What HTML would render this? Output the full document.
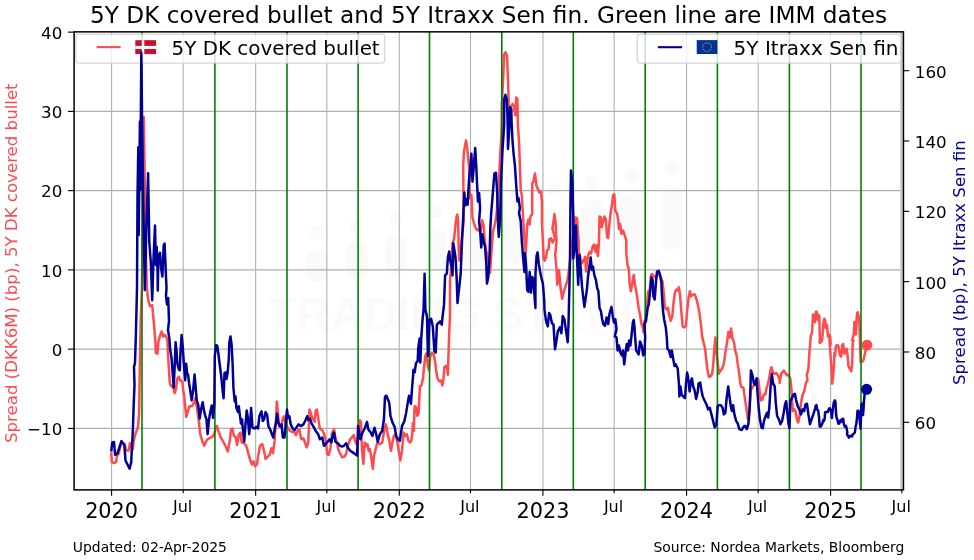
<!DOCTYPE html>
<html><head><meta charset="utf-8"><title>5Y DK covered bullet and 5Y Itraxx Sen fin</title>
<style>html,body{margin:0;padding:0;background:#fff}body{width:974px;height:560px;overflow:hidden}</style></head>
<body>
<svg width="974" height="560" viewBox="0 0 974 560" font-family='"DejaVu Sans","Liberation Sans",sans-serif' style="display:block;will-change:transform">
<rect width="974" height="560" fill="#fff"/>
<g fill="#fafafa">
<rect x="306.0" y="250.0" width="22" height="32.0" rx="10"/>
<circle cx="317.0" cy="233.0" r="7"/>
<rect x="345.4" y="242.8" width="22" height="35.7" rx="10"/>
<circle cx="356.4" cy="225.8" r="7"/>
<rect x="384.8" y="235.6" width="22" height="39.3" rx="10"/>
<circle cx="395.8" cy="218.6" r="7"/>
<rect x="424.2" y="228.3" width="22" height="43.0" rx="10"/>
<circle cx="435.2" cy="211.3" r="7"/>
<rect x="463.6" y="221.1" width="22" height="46.7" rx="10"/>
<circle cx="474.6" cy="204.1" r="7"/>
<rect x="502.9" y="213.9" width="22" height="50.3" rx="10"/>
<circle cx="513.9" cy="196.9" r="7"/>
<rect x="542.3" y="206.7" width="22" height="54.0" rx="10"/>
<circle cx="553.3" cy="189.7" r="7"/>
<rect x="581.7" y="199.4" width="22" height="57.7" rx="10"/>
<circle cx="592.7" cy="182.4" r="7"/>
<rect x="621.1" y="192.2" width="22" height="61.3" rx="10"/>
<circle cx="632.1" cy="175.2" r="7"/>
<rect x="660.5" y="185.0" width="22" height="65.0" rx="10"/>
<circle cx="671.5" cy="168.0" r="7"/>
<text x="268" y="330" font-size="47" font-weight="bold" font-family='"Liberation Sans",sans-serif' textLength="422" lengthAdjust="spacingAndGlyphs">TRADING STATION</text>
</g>
<g stroke="#b0b0b0" stroke-width="1.1" fill="none">
<line x1="111.60" y1="31.85" x2="111.60" y2="489.9"/>
<line x1="183.22" y1="31.85" x2="183.22" y2="489.9"/>
<line x1="255.64" y1="31.85" x2="255.64" y2="489.9"/>
<line x1="326.87" y1="31.85" x2="326.87" y2="489.9"/>
<line x1="399.28" y1="31.85" x2="399.28" y2="489.9"/>
<line x1="470.51" y1="31.85" x2="470.51" y2="489.9"/>
<line x1="542.92" y1="31.85" x2="542.92" y2="489.9"/>
<line x1="614.15" y1="31.85" x2="614.15" y2="489.9"/>
<line x1="686.56" y1="31.85" x2="686.56" y2="489.9"/>
<line x1="758.19" y1="31.85" x2="758.19" y2="489.9"/>
<line x1="830.60" y1="31.85" x2="830.60" y2="489.9"/>
<line x1="74.1" y1="111.40" x2="903.45" y2="111.40"/>
<line x1="74.1" y1="190.65" x2="903.45" y2="190.65"/>
<line x1="74.1" y1="269.90" x2="903.45" y2="269.90"/>
<line x1="74.1" y1="349.15" x2="903.45" y2="349.15"/>
<line x1="74.1" y1="428.40" x2="903.45" y2="428.40"/>
</g>
<rect x="900.1" y="31.85" width="2.7" height="458.05" fill="#cdcdcd"/>
<clipPath id="c"><rect x="74.1" y="31.85" width="829.35" height="458.05"/></clipPath>
<polyline clip-path="url(#c)" fill="none" stroke-linejoin="round" stroke-width="2.5" stroke="#ff4a4e" points="111.2,452.3 111.8,462.1 114.0,463.0 116.1,462.1 116.9,456.4 118.9,453.1 120.5,445.7 122.2,442.4 124.6,444.1 126.3,450.6 128.8,450.6 129.9,443.2 131.2,447.4 132.9,449.0 133.7,440.8 135.3,434.2 138.1,426.8 139.1,412.9 139.4,396.4 139.6,380.0 140.7,320.9 141.9,288.0 143.8,117.3 144.6,170.0 145.6,240.0 146.8,288.0 147.6,294.6 148.5,301.1 150.1,306.1 152.2,305.2 153.4,317.6 154.5,330.7 155.5,343.9 155.9,352.9 157.5,353.7 158.3,342.2 160.0,335.6 161.6,331.5 163.2,336.5 164.9,334.8 166.5,337.3 167.7,342.2 167.5,344.4 168.7,365.9 169.8,383.2 171.3,386.1 173.0,386.8 174.7,393.2 175.9,388.9 177.3,378.9 178.8,376.7 180.2,380.3 182.3,381.8 183.3,390.4 184.5,399.0 186.2,417.0 187.9,411.2 189.5,406.3 192.0,406.3 194.5,401.4 195.3,398.1 196.9,407.9 198.6,419.4 200.2,434.2 202.7,442.4 204.3,445.7 206.8,440.0 209.2,438.3 212.5,436.7 214.2,434.2 215.8,427.6 217.0,426.0 218.3,430.9 220.8,437.5 222.4,440.0 224.0,443.2 225.7,446.5 227.8,451.5 229.8,440.8 231.1,429.3 232.4,428.5 233.9,435.9 235.5,436.7 237.2,444.9 238.8,434.2 240.5,432.6 241.6,442.4 243.8,443.2 246.2,445.7 248.7,454.8 250.3,460.5 252.0,464.6 253.6,461.3 255.2,466.2 256.9,464.6 258.5,453.9 260.0,445.7 262.3,444.1 264.0,450.7 265.6,458.9 268.1,456.5 269.7,454.8 271.4,448.2 273.0,453.2 274.6,440.9 276.0,419.5 276.8,401.4 277.9,412.9 279.2,426.1 281.2,427.7 282.9,417.9 284.2,416.2 285.8,424.4 287.8,427.7 290.2,431.0 292.4,431.8 294.4,432.6 296.0,435.1 297.6,431.0 299.3,429.4 301.3,439.2 303.4,438.4 305.0,442.5 306.7,447.4 308.3,442.5 309.5,409.6 310.8,412.9 312.1,417.9 313.2,419.5 314.6,422.0 315.7,410.5 317.0,409.6 318.2,417.9 319.8,428.5 322.3,430.2 323.9,433.5 325.6,439.2 327.2,454.0 328.9,454.8 330.5,447.4 332.1,432.6 334.1,429.4 335.4,437.6 337.1,444.1 338.7,450.7 340.4,454.0 342.0,457.3 344.5,456.5 346.1,454.0 347.8,445.8 350.2,439.2 351.9,437.6 353.8,435.1 355.1,440.9 356.8,444.1 358.4,434.3 359.7,420.3 360.9,422.0 362.0,450.7 363.4,463.9 364.7,442.5 365.8,445.8 367.5,444.1 368.6,450.7 369.9,449.1 371.2,457.3 372.9,468.8 374.0,455.6 375.7,449.1 377.3,442.5 379.8,444.1 382.2,442.5 384.4,429.4 386.0,424.4 387.7,434.3 389.3,440.9 391.0,450.7 392.1,444.1 393.8,435.9 395.4,434.3 397.0,440.9 398.7,450.7 400.3,460.6 402.0,450.7 403.6,432.6 405.2,435.9 406.9,434.3 408.5,440.9 410.0,442.5 411.3,440.7 412.1,434.3 412.9,423.0 413.8,431.1 414.6,406.2 416.2,407.0 417.3,415.8 418.6,413.4 419.9,386.1 421.5,385.3 423.1,378.0 423.8,369.0 425.4,355.9 426.5,353.4 427.9,365.7 429.0,370.6 430.3,355.9 432.0,352.6 433.6,354.2 435.2,362.4 436.4,372.3 437.7,378.9 439.4,381.3 441.0,380.5 442.3,385.4 443.5,378.9 444.3,367.4 445.6,365.7 446.8,366.5 447.9,374.8 448.4,357.5 449.2,332.9 450.0,316.4 450.0,280.3 450.9,270.4 451.7,257.3 452.5,243.3 454.1,239.2 455.5,224.4 456.6,216.2 457.4,214.6 458.2,224.4 458.7,249.1 459.4,260.6 460.7,249.1 462.4,232.6 463.7,221.1 463.2,165.3 464.0,151.3 466.0,140.6 467.3,148.9 468.9,165.3 469.8,198.1 471.4,194.9 472.5,217.9 473.9,222.8 475.5,227.7 477.1,230.2 478.8,229.4 480.4,232.6 482.1,220.3 483.4,224.4 484.5,237.6 485.7,249.1 487.0,254.0 488.6,262.2 490.0,272.9 491.1,257.3 491.9,245.8 492.8,232.6 494.4,226.1 495.5,221.1 496.5,214.6 498.8,185.0 500.1,157.1 501.5,132.4 501.8,103.9 503.1,79.3 504.2,54.6 505.4,52.2 507.0,55.5 508.0,79.3 508.7,103.9 509.7,115.4 510.8,107.2 512.5,103.9 514.1,107.2 515.3,115.4 516.2,97.4 517.4,99.0 517.9,125.9 519.0,140.6 519.9,165.3 520.7,189.9 521.8,194.9 523.5,224.4 524.5,240.9 525.6,252.4 526.4,240.9 527.2,224.4 528.4,219.5 529.7,224.4 530.5,216.2 532.2,214.6 532.2,183.4 533.3,181.7 535.0,173.5 536.3,185.0 537.6,188.3 539.2,192.4 540.9,191.6 542.0,201.4 542.0,224.4 542.9,240.9 543.7,258.9 544.8,260.6 546.1,257.3 547.0,250.7 548.6,249.1 549.4,239.2 551.1,238.4 552.7,242.5 554.4,239.2 555.0,237.6 552.4,228.9 554.5,214.1 555.7,223.9 556.5,242.0 555.2,255.1 556.5,268.3 557.3,284.7 559.0,269.9 560.6,288.0 562.2,298.7 563.9,291.3 565.5,286.4 567.2,281.4 568.3,274.9 575.4,217.4 577.0,218.2 577.9,232.1 578.7,242.0 578.7,250.2 580.3,258.4 582.0,263.4 583.6,260.9 585.2,256.8 586.1,271.6 587.4,260.1 588.5,254.3 589.7,251.9 591.0,253.5 592.6,246.9 594.0,244.5 595.6,251.9 596.8,245.3 597.9,256.0 598.9,243.6 599.5,216.5 600.9,217.4 601.7,227.2 602.8,222.3 604.5,216.5 605.8,219.0 607.1,237.1 608.2,237.9 609.4,223.9 610.7,212.4 612.0,204.2 613.2,195.2 614.3,194.4 615.3,210.8 617.0,213.2 618.1,219.0 618.9,228.9 620.2,223.9 621.4,233.8 623.0,230.5 624.7,235.4 626.3,240.4 626.3,253.5 627.5,265.0 628.8,269.1 629.6,283.1 630.8,291.3 632.1,284.7 633.7,274.9 635.0,284.7 636.2,291.3 637.3,297.9 638.6,307.7 640.0,314.3 641.1,322.5 642.8,327.4 643.6,332.4 644.4,320.9 645.5,319.2 646.9,304.4 648.2,291.3 649.8,289.6 651.0,274.9 652.1,274.0 655.1,277.3 659.2,273.2 662.5,281.4 663.6,291.3 664.9,307.7 666.6,309.4 667.9,307.7 669.0,314.3 670.7,320.9 672.3,315.9 673.5,302.8 674.8,292.9 676.4,289.6 677.7,290.5 678.9,287.2 680.0,294.6 681.4,312.6 682.7,326.6 684.3,327.4 686.0,325.8 687.1,311.0 688.8,296.2 689.9,291.3 691.2,296.2 692.9,294.6 694.8,294.6 696.1,297.9 697.8,304.4 699.4,312.6 701.1,325.8 701.9,334.0 702.4,337.6 704.0,344.2 705.2,349.1 706.2,359.0 707.3,368.9 709.0,377.1 710.6,376.2 712.2,373.8 713.4,362.3 714.4,347.5 715.4,337.6 716.4,352.4 717.7,362.3 718.8,373.8 720.5,370.5 722.1,368.9 723.8,363.9 725.4,352.4 727.0,342.6 728.4,331.9 729.8,337.6 731.1,328.6 732.5,338.5 734.1,342.6 735.2,350.8 736.4,354.1 737.7,363.9 739.0,372.1 740.2,382.0 741.0,386.4 743.5,388.1 745.1,399.6 746.8,411.1 747.9,419.3 749.5,409.4 750.9,389.7 758.2,378.7 759.4,389.7 760.7,400.4 762.4,399.6 763.7,394.6 765.3,394.6 766.5,388.1 767.6,384.8 768.9,379.9 770.2,371.6 771.4,367.2 773.0,372.1 774.7,373.8 776.3,373.0 778.0,375.4 779.6,379.5 779.6,383.1 781.2,373.8 783.7,370.5 785.4,373.0 787.0,375.4 788.6,374.6 790.3,378.7 791.6,391.4 792.8,411.1 794.4,409.4 795.5,411.1 796.9,419.3 798.2,422.6 799.3,417.6 801.0,402.9 802.6,394.6 804.2,391.4 805.9,383.1 807.5,379.9 806.7,375.4 808.4,368.9 809.2,355.7 810.8,336.0 812.0,332.7 813.0,314.6 814.1,317.9 815.0,322.2 815.7,312.2 816.4,311.5 817.2,314.3 817.9,320.1 818.6,315.1 819.3,315.8 819.7,333.8 820.0,342.4 819.3,342.2 820.4,342.9 821.8,340.8 822.2,339.5 822.9,330.1 823.6,321.5 824.3,318.7 825.1,320.1 825.8,328.0 826.5,324.4 827.2,325.8 827.9,336.6 829.0,334.5 830.1,335.9 830.7,345.0 829.4,338.6 830.1,349.4 831.2,363.8 831.9,375.0 832.2,383.7 833.3,375.0 834.0,363.8 834.5,353.0 835.1,355.8 835.8,346.5 836.9,345.1 838.0,345.4 839.1,349.4 839.8,355.1 840.9,356.6 841.6,353.7 842.3,345.1 843.2,344.0 843.8,349.4 844.5,353.7 845.5,349.4 846.6,348.7 847.3,353.0 847.9,359.4 848.4,365.9 849.5,368.1 850.2,369.5 851.3,371.3 852.0,365.2 852.4,356.6 852.7,342.2 853.5,340.8 852.0,340.2 852.7,338.8 853.8,333.8 854.4,322.2 855.2,321.9 856.0,334.5 856.5,321.5 857.0,313.6 857.8,312.2 858.5,315.1 859.0,318.7 859.6,326.6 859.9,340.9 860.1,345.8 860.6,361.6 862.4,361.6 863.5,360.1 864.6,355.1 865.7,350.1 866.8,345.8"/>
<g stroke="#008000" stroke-width="1.6">
<line x1="142.00" y1="31.85" x2="142.00" y2="489.9"/>
<line x1="214.90" y1="31.85" x2="214.90" y2="489.9"/>
<line x1="287.00" y1="31.85" x2="287.00" y2="489.9"/>
<line x1="358.10" y1="31.85" x2="358.10" y2="489.9"/>
<line x1="429.50" y1="31.85" x2="429.50" y2="489.9"/>
<line x1="501.80" y1="31.85" x2="501.80" y2="489.9"/>
<line x1="573.30" y1="31.85" x2="573.30" y2="489.9"/>
<line x1="645.20" y1="31.85" x2="645.20" y2="489.9"/>
<line x1="717.40" y1="31.85" x2="717.40" y2="489.9"/>
<line x1="789.40" y1="31.85" x2="789.40" y2="489.9"/>
<line x1="861.00" y1="31.85" x2="861.00" y2="489.9"/>
</g>
<circle cx="867.0" cy="345.1" r="5.4" fill="#ff4a4e"/>
<rect x="75.8" y="34.2" width="308.9" height="28.9" rx="3" fill="#fff" fill-opacity="0.8" stroke="#ccc" stroke-opacity="0.8" stroke-width="1.3"/>
<line x1="96.6" y1="47.1" x2="120.6" y2="47.1" stroke="#ff4a4e" stroke-width="2.1"/>
<rect x="135.3" y="40.2" width="20.8" height="13.9" fill="#c8102e"/>
<rect x="141.8" y="40.2" width="2.5" height="13.9" fill="#fff"/><rect x="135.3" y="45.9" width="20.8" height="3.1" fill="#fff"/>
<text x="171.5" y="55" font-size="19.9" fill="#000">5Y DK covered bullet</text>
<polyline clip-path="url(#c)" fill="none" stroke-linejoin="round" stroke-width="2.5" stroke="#000096" points="111.2,451.5 112.3,442.4 114.0,442.1 115.1,454.8 117.2,453.9 118.9,449.0 121.4,441.1 123.0,443.2 124.3,444.9 125.5,460.5 127.1,463.8 129.6,468.7 131.2,462.1 132.9,429.3 133.7,404.6 134.5,384.9 134.0,366.9 135.0,362.8 135.8,337.3 137.0,288.0 137.5,196.0 138.3,147.3 138.7,235.0 139.9,121.5 140.3,190.0 141.3,52.6 142.2,130.0 143.2,200.0 144.8,290.0 146.3,230.0 148.1,173.2 149.3,242.0 150.9,263.4 152.2,300.3 153.4,261.7 155.0,225.6 155.9,265.0 156.7,246.9 157.5,268.3 157.8,290.5 158.3,258.4 160.0,252.7 161.1,268.3 162.4,276.5 163.7,245.3 164.6,243.6 165.7,269.9 166.5,288.0 166.0,296.2 167.0,304.4 168.2,297.9 169.0,320.9 168.0,330.0 169.4,338.6 170.1,348.7 171.6,358.8 173.0,377.4 173.7,387.5 174.7,365.9 175.6,342.2 176.6,351.6 177.3,363.1 178.8,369.5 179.8,370.2 180.5,351.6 181.6,335.0 182.8,347.2 183.8,363.1 185.2,380.3 186.2,363.8 187.1,373.1 188.1,374.6 189.1,383.2 190.2,390.4 191.7,400.4 193.1,390.4 194.6,374.6 195.7,387.5 196.7,400.4 198.2,404.7 198.6,407.9 199.7,418.6 201.0,409.6 202.7,402.2 203.8,409.6 205.1,415.3 206.5,419.4 207.6,434.2 208.8,421.1 210.1,412.9 211.7,405.5 213.0,417.8 214.3,404.0 214.8,356.0 216.1,345.1 217.3,345.8 218.3,353.0 219.7,364.5 221.2,376.0 222.6,390.4 223.6,398.3 224.5,373.1 225.5,372.4 226.5,378.9 227.6,373.1 228.8,358.8 229.3,342.9 230.5,336.5 231.6,344.4 232.7,365.9 233.4,387.5 234.7,401.4 235.5,396.4 236.4,407.9 238.0,412.0 238.8,406.3 240.0,416.1 241.0,423.5 242.1,419.4 242.9,429.3 244.2,441.6 245.4,426.0 246.7,410.4 247.9,417.8 249.2,434.2 250.3,421.1 251.1,407.9 252.5,427.6 254.4,428.5 256.1,426.8 258.0,428.5 259.4,416.1 261.5,411.3 262.8,421.1 264.0,419.5 265.6,412.1 267.2,415.4 268.4,426.1 270.5,430.2 272.2,435.1 273.3,437.6 274.6,429.4 276.0,422.8 277.1,413.8 278.3,422.8 279.9,426.1 281.5,424.4 282.9,437.6 284.5,437.6 285.8,422.8 287.0,409.6 288.1,417.9 289.4,416.2 290.7,424.4 292.7,428.5 294.7,430.2 296.8,426.9 298.5,424.4 300.9,426.1 303.4,424.4 305.5,420.3 307.2,416.2 308.3,420.3 310.0,418.7 311.6,423.6 314.1,427.7 315.7,431.0 318.2,434.3 319.8,439.2 322.3,437.6 323.9,445.8 326.4,443.3 328.5,440.9 329.7,439.2 331.3,442.5 333.0,434.3 334.1,432.6 335.4,441.7 337.9,443.3 340.0,445.8 342.0,446.6 344.0,445.8 346.1,443.3 347.8,447.4 350.2,450.7 352.7,452.4 355.1,454.0 357.1,455.6 358.1,426.1 359.2,432.6 360.4,439.2 362.5,432.6 365.0,427.7 367.0,422.0 368.3,429.4 370.8,432.6 372.4,435.9 374.5,427.7 376.2,434.3 377.8,441.7 379.8,434.3 382.2,431.0 383.9,419.5 385.0,396.5 386.4,395.7 388.0,399.8 389.3,403.1 390.5,416.2 392.6,422.8 394.6,426.9 396.2,435.9 397.9,439.2 399.8,440.9 402.0,426.1 404.4,421.1 406.1,412.9 407.7,403.1 409.0,395.7 410.9,403.8 412.1,387.7 413.3,373.2 413.4,369.8 414.7,372.3 416.0,363.2 417.7,360.8 418.3,347.6 419.6,338.6 420.3,362.4 421.3,337.8 422.4,321.4 423.6,309.0 424.6,273.7 425.4,309.9 427.0,316.4 427.9,355.9 429.5,319.7 431.1,318.9 432.8,326.3 434.4,350.9 435.7,352.6 436.9,324.6 438.5,323.0 440.2,321.4 441.8,324.6 442.6,316.4 444.0,304.9 445.1,275.4 446.8,273.7 447.9,257.3 449.2,251.5 450.5,262.2 451.7,267.1 452.5,275.4 453.3,243.3 454.5,250.7 455.5,257.3 456.6,277.0 457.5,303.0 460.7,273.7 462.0,240.9 463.2,217.9 464.3,192.4 465.3,205.5 466.6,199.0 467.6,204.7 468.9,181.7 470.2,168.6 471.4,153.8 472.5,181.7 473.9,165.3 475.2,148.0 476.3,166.9 477.1,185.0 478.0,201.4 479.1,193.2 480.1,208.0 479.1,221.1 480.4,234.3 481.2,247.4 482.4,234.3 483.7,242.5 485.0,245.8 486.2,262.2 487.0,283.6 488.3,277.0 489.5,257.3 490.3,229.4 491.1,214.6 493.2,188.3 494.4,173.5 496.0,172.7 497.2,193.2 498.2,227.7 498.8,236.8 500.1,217.9 501.0,181.7 502.6,148.9 504.2,124.2 504.2,99.0 505.4,94.9 506.7,99.0 507.5,115.4 508.0,148.9 509.2,129.1 510.0,107.2 511.3,108.9 511.6,122.6 512.5,140.6 513.6,153.8 514.9,165.3 516.2,185.0 517.4,201.4 518.5,198.1 519.9,208.0 519.0,212.9 520.7,221.1 521.8,240.9 523.1,257.3 524.5,272.1 525.1,253.2 526.1,265.5 527.2,290.1 528.4,291.8 529.7,272.1 531.0,292.6 532.2,277.0 533.3,278.6 535.4,308.0 535.5,273.7 536.6,255.6 537.6,252.4 538.8,263.9 539.9,270.4 541.2,277.0 542.9,283.6 544.2,300.0 544.5,309.9 546.1,321.4 547.8,326.3 549.1,313.1 550.2,314.8 551.9,323.0 553.5,324.6 555.0,349.3 556.5,340.6 557.8,331.5 559.8,327.4 561.4,333.2 562.7,315.9 564.4,319.2 565.5,327.4 567.7,342.2 568.5,324.1 569.3,291.3 570.0,258.4 570.5,199.3 571.0,170.5 572.3,182.9 573.3,215.7 573.3,258.4 574.6,246.9 575.9,225.6 576.7,251.9 578.2,284.7 579.5,255.1 580.8,269.9 582.0,286.4 583.1,296.2 584.4,306.9 585.7,297.9 586.9,289.6 588.0,276.5 589.4,266.6 590.7,257.6 591.8,269.9 593.0,266.6 594.3,274.9 595.9,279.8 597.2,288.0 598.4,291.3 599.5,307.7 600.9,311.0 602.2,319.2 603.3,324.1 605.0,325.8 606.6,317.6 608.2,324.1 609.4,314.3 610.7,309.4 611.5,306.9 612.7,315.9 614.0,322.5 615.3,319.2 616.5,329.1 614.8,336.5 616.5,337.3 617.6,350.4 618.9,345.5 620.2,352.1 621.9,355.4 623.0,350.4 624.2,364.4 625.5,353.7 626.8,343.9 628.0,350.4 629.1,340.6 630.4,345.5 632.9,322.5 633.7,320.0 634.5,327.4 635.0,335.6 636.2,350.4 637.3,352.1 638.6,354.5 640.0,341.4 641.6,345.5 643.2,355.4 644.4,353.7 645.2,337.3 644.4,324.1 646.0,320.9 647.7,307.7 648.8,304.4 650.1,291.3 651.5,277.3 652.6,279.8 653.4,296.2 654.7,299.5 655.9,283.1 657.0,271.6 658.7,270.8 660.0,274.9 661.3,281.4 662.0,296.2 663.0,311.0 664.1,319.2 665.8,327.4 666.9,338.9 667.4,348.8 669.0,350.4 670.7,357.0 671.8,350.4 673.1,358.6 674.5,366.0 675.6,364.4 677.7,368.5 678.9,383.3 679.4,396.4 680.5,386.6 681.7,394.8 683.8,397.2 685.0,398.1 686.0,383.3 687.1,372.6 688.3,378.4 689.6,391.5 690.9,381.6 692.0,378.4 693.2,386.6 694.5,389.9 696.1,398.9 697.8,391.5 698.6,383.3 700.2,382.5 701.4,389.9 702.7,396.4 705.0,401.4 706.5,404.5 708.1,409.4 709.8,407.8 711.4,414.4 713.1,420.9 714.7,427.5 716.4,424.2 717.7,406.1 718.8,405.3 721.0,405.3 722.6,407.8 723.8,414.4 725.4,412.7 726.5,399.6 728.2,386.4 729.5,396.3 730.8,406.1 732.0,411.1 733.1,405.3 734.4,414.4 736.1,420.9 737.7,423.4 739.4,429.1 741.8,430.0 743.5,426.7 745.1,425.9 746.8,429.1 748.4,424.2 749.5,411.1 750.5,386.4 750.9,370.5 752.5,375.4 753.8,383.1 755.0,384.8 756.6,378.2 757.4,391.4 758.7,407.8 759.9,419.3 761.5,427.5 762.7,428.3 764.0,420.9 765.6,416.0 767.0,412.7 768.1,417.6 769.3,407.8 770.6,386.4 771.9,374.1 773.0,383.1 774.7,386.4 775.8,402.9 777.1,416.0 778.8,419.3 780.4,424.2 782.1,420.9 783.7,412.7 785.0,404.5 786.2,401.2 787.3,412.7 788.6,424.2 789.5,428.3 790.3,401.2 791.9,397.9 793.6,394.6 794.9,393.8 796.0,399.6 797.7,406.1 799.3,409.4 801.0,414.4 802.6,409.4 804.2,411.1 805.4,404.5 807.0,403.7 808.4,414.4 810.0,424.2 811.6,419.3 813.3,414.4 814.9,409.4 815.7,405.8 816.4,405.1 817.2,409.4 818.2,410.8 819.0,416.6 819.7,426.6 820.8,426.6 822.2,423.8 823.3,420.1 824.0,420.9 824.7,418.7 825.1,412.2 826.5,411.9 827.9,411.9 829.0,408.7 829.7,408.3 830.5,410.1 831.2,411.5 831.9,418.0 832.8,409.4 833.7,402.9 834.8,400.4 835.5,402.2 836.0,413.0 836.6,418.0 837.3,419.4 838.4,423.8 839.4,423.4 840.5,420.1 841.6,421.6 842.3,419.1 843.2,418.7 843.8,423.8 844.8,426.6 845.9,425.9 846.6,428.1 847.3,432.4 847.0,434.4 848.1,436.2 848.9,437.6 849.9,436.2 850.9,435.8 852.0,436.5 852.7,434.4 853.8,433.7 854.9,432.2 855.6,426.6 856.3,423.8 857.0,418.0 857.5,410.8 858.5,410.8 859.2,413.7 859.9,422.3 860.6,428.8 861.0,416.6 861.4,404.3 862.1,403.6 862.6,409.4 863.0,415.1 863.5,409.4 863.9,402.2 864.5,395.0 866.6,389.3"/>
<circle cx="866.6" cy="389.3" r="5.55" fill="#000096"/>
<rect x="74.1" y="31.85" width="829.35" height="458.05" fill="none" stroke="#000" stroke-width="1.5"/>
<g stroke="#000" stroke-width="1.1">
<line x1="111.60" y1="489.9" x2="111.60" y2="495.79999999999995"/>
<line x1="183.22" y1="489.9" x2="183.22" y2="493.29999999999995"/>
<line x1="255.64" y1="489.9" x2="255.64" y2="495.79999999999995"/>
<line x1="326.87" y1="489.9" x2="326.87" y2="493.29999999999995"/>
<line x1="399.28" y1="489.9" x2="399.28" y2="495.79999999999995"/>
<line x1="470.51" y1="489.9" x2="470.51" y2="493.29999999999995"/>
<line x1="542.92" y1="489.9" x2="542.92" y2="495.79999999999995"/>
<line x1="614.15" y1="489.9" x2="614.15" y2="493.29999999999995"/>
<line x1="686.56" y1="489.9" x2="686.56" y2="495.79999999999995"/>
<line x1="758.19" y1="489.9" x2="758.19" y2="493.29999999999995"/>
<line x1="830.60" y1="489.9" x2="830.60" y2="495.79999999999995"/>
<line x1="901.83" y1="489.9" x2="901.83" y2="493.29999999999995"/>
<line x1="67.89999999999999" y1="32.15" x2="74.1" y2="32.15"/>
<line x1="67.89999999999999" y1="111.40" x2="74.1" y2="111.40"/>
<line x1="67.89999999999999" y1="190.65" x2="74.1" y2="190.65"/>
<line x1="67.89999999999999" y1="269.90" x2="74.1" y2="269.90"/>
<line x1="67.89999999999999" y1="349.15" x2="74.1" y2="349.15"/>
<line x1="67.89999999999999" y1="428.40" x2="74.1" y2="428.40"/>
<line x1="903.45" y1="70.70" x2="909.25" y2="70.70"/>
<line x1="903.45" y1="141.02" x2="909.25" y2="141.02"/>
<line x1="903.45" y1="211.34" x2="909.25" y2="211.34"/>
<line x1="903.45" y1="281.66" x2="909.25" y2="281.66"/>
<line x1="903.45" y1="351.98" x2="909.25" y2="351.98"/>
<line x1="903.45" y1="422.30" x2="909.25" y2="422.30"/>
</g>
<rect x="637.3" y="34.2" width="263.6" height="28.9" rx="3" fill="#fff" fill-opacity="0.8" stroke="#ccc" stroke-opacity="0.8" stroke-width="1.3"/>
<line x1="657.8" y1="47.2" x2="682.1" y2="47.2" stroke="#000096" stroke-width="2.1"/>
<rect x="696.7" y="40.1" width="20.7" height="13.9" fill="#003399"/>
<circle cx="707.05" cy="42.65" r="0.55" fill="#ffcc00"/>
<circle cx="709.25" cy="43.24" r="0.55" fill="#ffcc00"/>
<circle cx="710.86" cy="44.85" r="0.55" fill="#ffcc00"/>
<circle cx="711.45" cy="47.05" r="0.55" fill="#ffcc00"/>
<circle cx="710.86" cy="49.25" r="0.55" fill="#ffcc00"/>
<circle cx="709.25" cy="50.86" r="0.55" fill="#ffcc00"/>
<circle cx="707.05" cy="51.45" r="0.55" fill="#ffcc00"/>
<circle cx="704.85" cy="50.86" r="0.55" fill="#ffcc00"/>
<circle cx="703.24" cy="49.25" r="0.55" fill="#ffcc00"/>
<circle cx="702.65" cy="47.05" r="0.55" fill="#ffcc00"/>
<circle cx="703.24" cy="44.85" r="0.55" fill="#ffcc00"/>
<circle cx="704.85" cy="43.24" r="0.55" fill="#ffcc00"/>
<text x="733.6" y="55" font-size="20.0" fill="#000">5Y Itraxx Sen fin</text>
<g font-size="16.7" fill="#000">
<text x="62.3" y="38.95" text-anchor="end">40</text>
<text x="62.3" y="118.20" text-anchor="end">30</text>
<text x="62.3" y="197.45" text-anchor="end">20</text>
<text x="62.3" y="276.70" text-anchor="end">10</text>
<text x="62.3" y="355.95" text-anchor="end">0</text>
<text x="62.3" y="435.20" text-anchor="end">−10</text>
<text x="914.8" y="77.55">160</text>
<text x="914.8" y="147.87">140</text>
<text x="914.8" y="218.19">120</text>
<text x="914.8" y="288.51">100</text>
<text x="914.8" y="358.83">80</text>
<text x="914.8" y="429.15">60</text>
</g>
<g font-size="20.8" fill="#000" text-anchor="middle">
<text x="111.60" y="517.6">2020</text>
<text x="255.64" y="517.6">2021</text>
<text x="399.28" y="517.6">2022</text>
<text x="542.92" y="517.6">2023</text>
<text x="686.56" y="517.6">2024</text>
<text x="830.60" y="517.6">2025</text>
</g>
<g font-size="16.0" fill="#000" text-anchor="middle">
<text x="182.62" y="511.6">Jul</text>
<text x="326.27" y="511.6">Jul</text>
<text x="469.91" y="511.6">Jul</text>
<text x="613.55" y="511.6">Jul</text>
<text x="757.59" y="511.6">Jul</text>
<text x="901.23" y="511.6">Jul</text>
</g>
<text x="488.6" y="23.0" font-size="23.2" text-anchor="middle" fill="#000">5Y DK covered bullet and 5Y Itraxx Sen fin. Green line are IMM dates</text>
<text transform="translate(17.15,263.2) rotate(-90)" font-size="16.6" text-anchor="middle" fill="#ff4a4e">Spread (DKK6M) (bp), 5Y DK covered bullet</text>
<text transform="translate(965.1,262.6) rotate(-90)" font-size="16.58" text-anchor="middle" fill="#000096">Spread (bp), 5Y Itraxx Sen fin</text>
<text x="72.85" y="551.6" font-size="13.9" fill="#000">Updated: 02-Apr-2025</text>
<text x="904.4" y="551.6" font-size="13.9" fill="#000" text-anchor="end">Source: Nordea Markets, Bloomberg</text>
</svg>
</body></html>
